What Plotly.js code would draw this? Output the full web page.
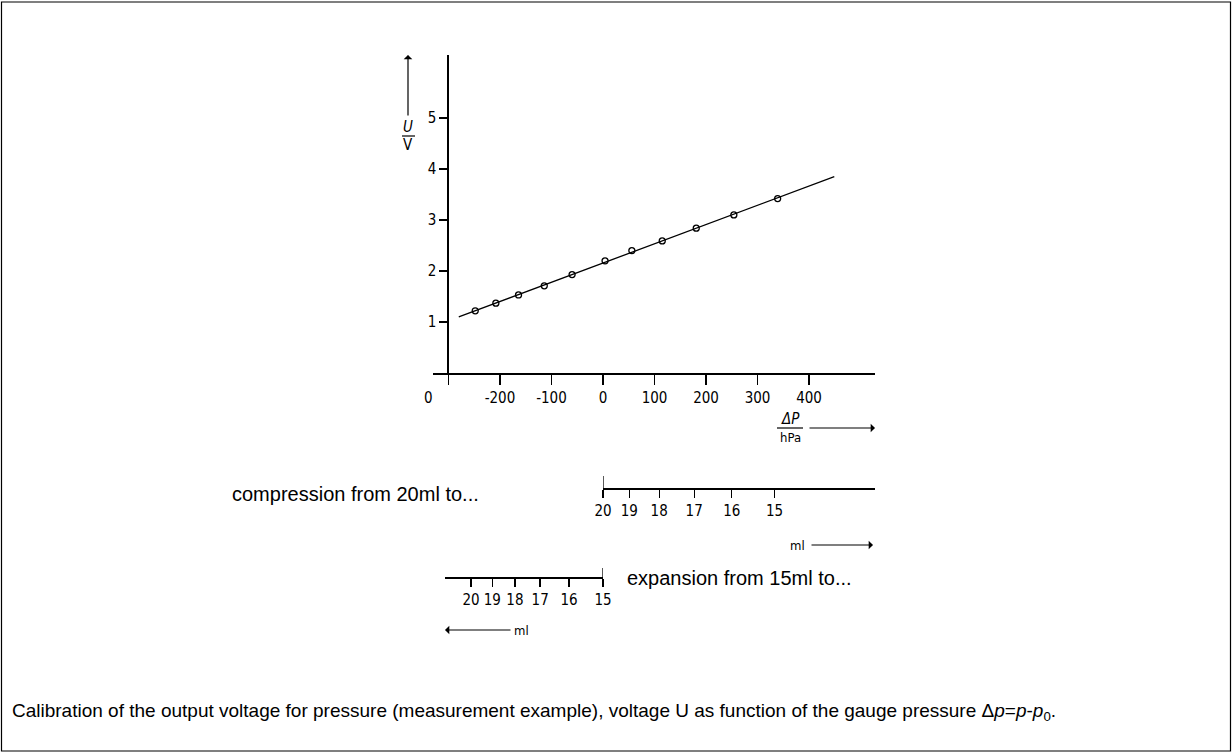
<!DOCTYPE html>
<html>
<head>
<meta charset="utf-8">
<script src="https://cdn.plot.ly/plotly-3.0.1.min.js"></script>
<style>html,body{margin:0;padding:0;background:#fff;}#chart{width:1232px;height:753px;}</style>
</head>
<body>
<div id="chart"></div>
<script>
// ---- data ----
const pressure = [-248, -208, -164, -114, -60, 4, 56, 115, 181, 254, 339];   // ΔP / hPa
const voltage  = [1.22, 1.37, 1.53, 1.71, 1.93, 2.20, 2.40, 2.59, 2.84, 3.10, 3.42]; // U / V
const fitPressure = [-280, 449];
const fitVoltage  = [1.10, 3.85];

const xTickVals  = [-300, -200, -100, 0, 100, 200, 300, 400];
const xTickText  = ["", "-200", "-100", "0", "100", "200", "300", "400"];
const yTickVals  = [1, 2, 3, 4, 5];
const yTickText  = ["1", "2", "3", "4", "5"];

// compression from 20 ml: volume ticks placed at the matching ΔP
const compressionP   = [0, 51, 109, 177, 250, 333];
const compressionVol = ["20", "19", "18", "17", "16", "15"];
// expansion from 15 ml
const expansionP   = [-256, -215, -171, -122, -66, 0];
const expansionVol = ["20", "19", "18", "17", "16", "15"];

// ---- layout helpers (pixel -> paper) ----
const W = 1232, H = 753;
const px = v => v / W;
const py = v => 1 - v / H;

const xRange = [-330, 528];
const xDom = [px(433), px(875)];
const pToPaper = p => xDom[0] + (p - xRange[0]) / (xRange[1] - xRange[0]) * (xDom[1] - xDom[0]);

const techFont = "DejaVu Sans Condensed, Liberation Sans Narrow, sans-serif";
const sansFont = "Liberation Sans, Arial, sans-serif";

const traces = [
  {x: fitPressure, y: fitVoltage, mode: "lines", line: {color: "#000", width: 1.3},
   hoverinfo: "skip", showlegend: false},
  {x: pressure, y: voltage, mode: "markers",
   marker: {symbol: "circle-open", size: 6, color: "#000", line: {width: 1.3, color: "#000"}},
   showlegend: false},
  {x: [], y: [], xaxis: "x2", yaxis: "y", showlegend: false, hoverinfo: "skip"},
  {x: [], y: [], xaxis: "x3", yaxis: "y", showlegend: false, hoverinfo: "skip"}
];

const axisCommon = {
  showgrid: false, zeroline: false, showline: true, linecolor: "#000",
  ticks: "outside", tickcolor: "#000", fixedrange: true,
  tickfont: {family: techFont, size: 15, color: "#000"}, tickmode: "array"
};

function label(text, x, y, size, family, extra) {
  return Object.assign({text: text, xref: "paper", yref: "paper", x: px(x), y: py(y),
    xanchor: "center", yanchor: "middle", showarrow: false,
    font: {family: family || techFont, size: size, color: "#000"}}, extra || {});
}
function arrow(x, y, ax, ay) {
  return {text: "", xref: "paper", yref: "paper", x: px(x), y: py(y), ax: ax, ay: ay,
    xanchor: "center", yanchor: "middle",
    showarrow: true, arrowhead: 1, arrowsize: 1.2, arrowwidth: 1.2, arrowcolor: "#000"};
}

const layout = {
  width: W, height: H, margin: {l: 0, r: 0, t: 0, b: 0},
  paper_bgcolor: "#fff", plot_bgcolor: "rgba(0,0,0,0)", showlegend: false,
  xaxis: Object.assign({}, axisCommon, {
    domain: xDom, range: xRange, anchor: "y", linewidth: 1.8,
    tickvals: xTickVals, ticktext: xTickText, ticklen: 10, tickwidth: 1.5
  }),
  yaxis: Object.assign({}, axisCommon, {
    domain: [py(373), py(55)], range: [0, 6.235], anchor: "free",
    position: pToPaper(-300), linewidth: 2,
    tickvals: yTickVals, ticktext: yTickText, ticklen: 8, tickwidth: 1.3
  }),
  xaxis2: Object.assign({}, axisCommon, {
    domain: [pToPaper(0), xDom[1]], range: [0, 528], anchor: "free",
    position: py(488), linewidth: 1.5,
    tickvals: compressionP, ticktext: compressionVol, ticklen: 8, tickwidth: 1.3
  }),
  xaxis3: Object.assign({}, axisCommon, {
    domain: [pToPaper(-307), pToPaper(0)], range: [-307, 0], anchor: "free",
    position: py(577), linewidth: 1.5,
    tickvals: expansionP, ticktext: expansionVol, ticklen: 8, tickwidth: 1.3
  }),
  shapes: [
    // outer frame
    {type: "rect", xref: "paper", yref: "paper", x0: px(1.5), x1: px(1230.5), y0: py(751), y1: py(2),
     line: {color: "#000", width: 1.2}},
    // upward part of the start ticks of the volume scales
    {type: "line", xref: "x2", yref: "paper", x0: 0, x1: 0, y0: py(488), y1: py(476),
     line: {color: "#000", width: 1.3}},
    {type: "line", xref: "x3", yref: "paper", x0: 0, x1: 0, y0: py(577), y1: py(568),
     line: {color: "#000", width: 1.3}},
    // fraction bars
    {type: "line", xref: "paper", yref: "paper", x0: px(402), x1: px(415), y0: py(136), y1: py(136),
     line: {color: "#000", width: 1.2}},
    {type: "line", xref: "paper", yref: "paper", x0: px(777), x1: px(803), y0: py(428), y1: py(428),
     line: {color: "#000", width: 1.2}}
  ],
  annotations: [
    label("0", 428, 398, 15),
    // y title
    label("<i>U</i>", 408, 127, 15),
    label("V", 408, 145, 15),
    arrow(408, 55, 0, 62),
    // x title
    label("<i>ΔP</i>", 790, 419, 15),
    label("hPa", 790, 437, 13),
    arrow(875, 428, -67, 0),
    // compression scale
    label("compression from 20ml to...", 230, 494, 20, sansFont, {xanchor: "left"}),
    label("ml", 797, 545, 13),
    arrow(873, 545, -63, 0),
    // expansion scale
    label("expansion from 15ml to...", 625, 578, 20, sansFont, {xanchor: "left"}),
    label("ml", 521, 630, 13),
    arrow(445, 630, 67, 0),
    // caption
    label("Calibration of the output voltage for pressure (measurement example), voltage U as function of the gauge pressure Δ<i>p</i>=<i>p</i>-<i>p</i><sub>0</sub>.",
          10, 712, 19, sansFont, {xanchor: "left"})
  ]
};

Plotly.newPlot("chart", traces, layout, {staticPlot: true, displayModeBar: false});
</script>
</body>
</html>
